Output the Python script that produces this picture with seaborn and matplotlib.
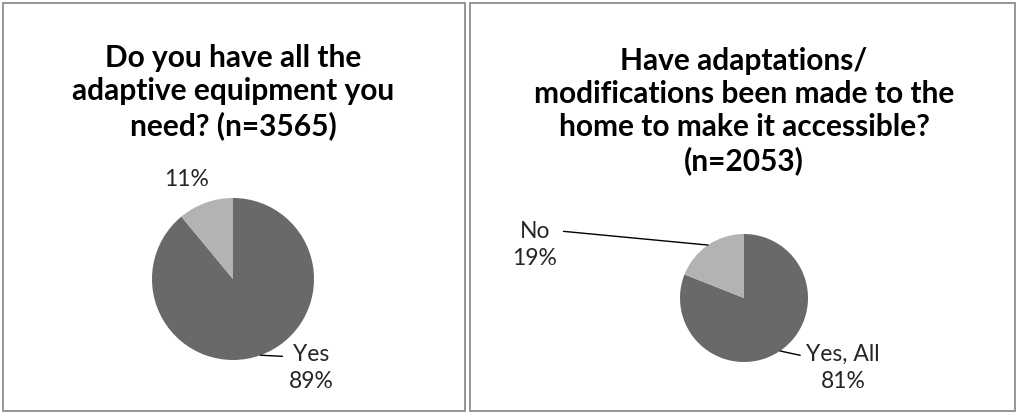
import numpy as np
import matplotlib
matplotlib.use("Agg")
import matplotlib.pyplot as plt
from matplotlib.patches import Rectangle
import seaborn as sns

# data
left_title = "Do you have all the\nadaptive equipment you\nneed? (n=3565)"
left_labels = ["Yes", ""]
left_values = [89, 11]

right_title = "Have adaptations/\nmodifications been made to the\nhome to make it accessible?\n(n=2053)"
right_labels = ["Yes, All", "No"]
right_values = [81, 19]

slice_colors = ["#696969", "#b3b3b3"]

sns.set_theme(style="white")
plt.rcParams['font.family'] = ['Lato', 'DejaVu Sans']

W, H = 1018, 413
fig = plt.figure(figsize=(W / 100, H / 100), dpi=100)
ax = fig.add_axes([0, 0, 1, 1])


def Y(y):
    # pixel row (top down) -> data y (bottom up)
    return H - y


# panel frames
for x0, x1 in [(3, 465), (470, 1015)]:
    ax.add_patch(Rectangle((x0, Y(411)), x1 - x0, 408, fill=False,
                           edgecolor="#8e8e8e", lw=1.3))


def draw_pie(values, labels, title, cx, cy, r, title_y, label_pos, rel):
    wedges, _ = ax.pie(values, colors=slice_colors, startangle=90,
                       counterclock=False, center=(cx, Y(cy)), radius=r,
                       frame=True, wedgeprops=dict(linewidth=0))
    ax.text(cx, Y(title_y), title, ha="center", va="center", fontsize=21.5,
            fontweight="bold", linespacing=1.22, color="black")
    for w, v, lab, pos, rp in zip(wedges, values, labels, label_pos, rel):
        txt = f"{lab}\n{v}%" if lab else f"{v}%"
        if rp is None:
            ax.text(pos[0], Y(pos[1]), txt, ha="center", va="center",
                    fontsize=16.5, linespacing=1.32)
            continue
        ang = np.deg2rad((w.theta1 + w.theta2) / 2)
        ex = cx + r * np.cos(ang)
        ey = Y(cy) + r * np.sin(ang)
        ax.annotate(txt, xy=(ex, ey), xytext=(pos[0], Y(pos[1])),
                    ha="center", va="center", fontsize=16.5, linespacing=1.32,
                    arrowprops=dict(arrowstyle="-", color="black", lw=1,
                                    shrinkA=2, shrinkB=0, relpos=rp,
                                    connectionstyle="arc3,rad=0"))


draw_pie(left_values, left_labels, left_title, 233, 279, 81, 92,
         [(311, 368), (187, 180)], [(0, 0.74), None])
draw_pie(right_values, right_labels, right_title, 744, 298, 64, 111,
         [(843, 368), (535, 245)], [(0, 0.74), (1, 0.8)])

ax.set_xlim(0, W)
ax.set_ylim(0, H)
ax.set_aspect("equal")
ax.axis("off")

fig.savefig("out.png", dpi=100, facecolor="white")
